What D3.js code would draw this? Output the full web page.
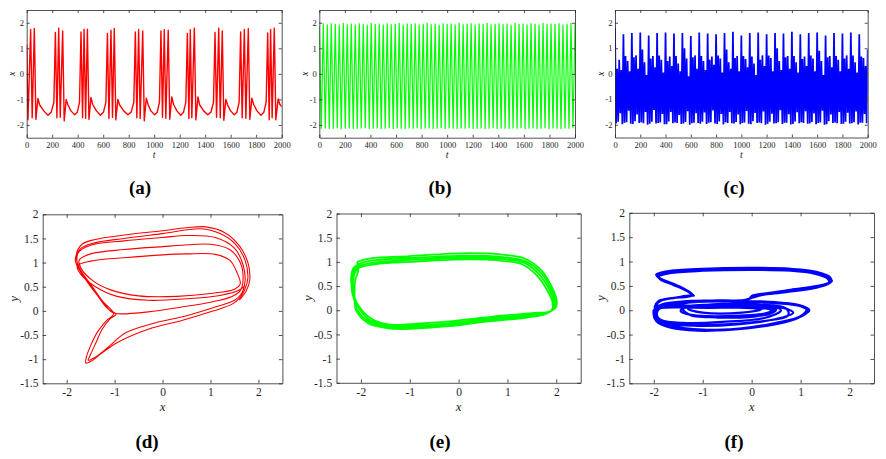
<!DOCTYPE html>
<html>
<head>
<meta charset="utf-8">
<script src="https://cdn.jsdelivr.net/npm/d3@7"></script>
<style>
  body { margin: 0; background: #fff; }
  svg { display: block; }
  svg text { font-family: "Liberation Serif", "Times New Roman", Times, serif; }
</style>
</head>
<body>
<svg id="fig" width="886" height="459"></svg>
<script>
// ---------- data ----------

// (a) bursting x(t): [t, x] vertices
var seriesA = [
  [0,1.15],[10,-1.8],[31,1.74],[43,-1.72],[60,1.78],[72,-1.78],[88,-0.96],[102,-1.22],[134,-1.45],[167,-1.62],[192,-1.5],[213,-1.12],
  [225,1.62],[237,-1.72],[251,1.79],[263,-1.7],[282,1.68],[294,-1.84],[310,-1.0],[324,-1.22],[347,-1.45],[376,-1.6],[397,-1.5],[414,-1.12],
  [426,1.64],[438,-1.72],[450,1.75],[462,-1.74],[476,1.75],[488,-1.78],[504,-0.92],[518,-1.2],[547,-1.45],[578,-1.62],[602,-1.5],[621,-1.12],
  [633,1.58],[645,-1.75],[661,1.71],[673,-1.7],[687,1.78],[699,-1.8],[715,-1.0],[729,-1.22],[761,-1.45],[794,-1.6],[819,-1.5],[840,-1.12],
  [852,1.64],[864,-1.72],[878,1.74],[890,-1.75],[910,1.68],[922,-1.84],[938,-0.95],[952,-1.2],[974,-1.45],[1003,-1.6],[1024,-1.5],[1041,-1.12],
  [1053,1.68],[1065,-1.7],[1079,1.73],[1091,-1.74],[1110,1.71],[1122,-1.78],[1138,-0.9],[1152,-1.2],[1178,-1.45],[1208,-1.62],[1230,-1.5],[1248,-1.12],
  [1260,1.58],[1272,-1.75],[1283,1.73],[1295,-1.72],[1315,1.79],[1327,-1.8],[1343,-0.9],[1357,-1.22],[1388,-1.45],[1420,-1.6],[1445,-1.5],[1465,-1.12],
  [1477,1.62],[1489,-1.7],[1506,1.79],[1518,-1.72],[1534,1.68],[1546,-1.82],[1562,-1.0],[1576,-1.22],[1599,-1.45],[1628,-1.6],[1649,-1.5],[1666,-1.12],
  [1678,1.64],[1690,-1.72],[1707,1.74],[1719,-1.74],[1738,1.77],[1750,-1.78],[1766,-0.95],[1780,-1.2],[1806,-1.45],[1837,-1.62],[1860,-1.5],[1878,-1.12],
  [1890,1.6],[1902,-1.8],[1913,1.74],[1925,-1.72],[1942,1.79],[1954,-1.8],[1972,-0.98],[1986,-1.2],[2000,-1.28]
];

// (b) periodic x(t): one peak every bPeriod, trough half way between
var bPeriod = 31.25;
var bPeakX = [
  1.85,1.97,1.93,1.98,1.95,1.92,1.99,1.94,1.97,1.93,
  1.98,1.96,1.92,1.99,1.95,1.97,1.93,1.98,1.94,1.96,
  1.99,1.92,1.97,1.95,1.98,1.93,1.96,1.99,1.94,1.97,
  1.92,1.98,1.95,1.97,1.93,1.99,1.94,1.96,1.98,1.92,
  1.97,1.95,1.99,1.93,1.96,1.98,1.94,1.97,1.92,1.99,
  1.95,1.97,1.93,1.98,1.96,1.92,1.99,1.94,1.97,1.95,
  1.98,1.93,1.96,1.99,1.94
];
var bTroughX = [
  -2.15,-2.14,-2.16,-2.15,-2.13,-2.16,-2.15,-2.14,
  -2.16,-2.15,-2.14,-2.13,-2.16,-2.15,-2.14,-2.16,
  -2.15,-2.13,-2.16,-2.14,-2.15,-2.16,-2.14,-2.15,
  -2.13,-2.16,-2.15,-2.14,-2.16,-2.15,-2.13,-2.16,
  -2.14,-2.15,-2.16,-2.14,-2.15,-2.13,-2.16,-2.15,
  -2.14,-2.16,-2.15,-2.13,-2.16,-2.14,-2.15,-2.16,
  -2.14,-2.15,-2.13,-2.16,-2.15,-2.14,-2.16,-2.15,
  -2.13,-2.16,-2.14,-2.15,-2.16,-2.14,-2.15,-2.13
];

// (c) chaotic x(t): local maxima / minima, one oscillation every cStep
var cStep = 2000 / 120;
var cPeaks = [
  1.80,0.20,0.55,0.15,  1.55,0.70,0.50,0.10,  1.60,0.65,0.72,0.20,  1.62,0.95,0.45,-0.05,
  1.50,0.60,0.70,0.25,  1.60,0.72,0.55,0.05,  1.62,0.50,0.68,0.30,  1.58,0.70,0.40,0.10,
  1.60,1.00,0.60,-0.10, 1.48,0.65,0.72,0.20,  1.62,0.70,0.50,0.15,  1.58,0.55,0.68,0.35,
  1.55,0.72,0.60,0.05,  1.60,0.95,0.45,0.20,  1.65,0.62,0.70,0.10,  1.50,0.70,0.58,0.25,
  1.60,0.68,0.40,-0.05, 1.62,0.55,0.72,0.30,  1.55,0.72,0.62,0.10,  1.60,1.00,0.50,0.15,
  1.58,0.65,0.70,0.20,  1.65,0.70,0.45,0.05,  1.55,0.58,0.68,0.30,  1.60,0.72,0.60,0.10,
  1.62,0.90,0.50,-0.05, 1.50,0.65,0.70,0.25,  1.60,0.70,0.55,0.10,  1.58,0.60,0.72,0.20,
  1.62,0.72,0.45,0.05,  1.55,0.68,0.62,0.30,  0.95
];
var cTroughs = [
  -1.95,-1.88,-1.55,-1.98, -1.92,-1.90,-1.45,-1.96, -1.97,-1.86,-1.60,-1.93, -1.90,-1.94,-1.50,-2.00,
  -1.96,-1.88,-1.42,-1.95, -1.93,-1.91,-1.58,-1.98, -1.98,-1.87,-1.50,-1.94, -1.91,-1.93,-1.62,-1.97,
  -1.95,-1.89,-1.47,-2.00, -1.94,-1.92,-1.55,-1.93, -1.96,-1.88,-1.52,-1.97, -1.92,-1.90,-1.44,-1.95,
  -1.97,-1.87,-1.58,-1.99, -1.90,-1.93,-1.50,-1.94, -1.95,-1.89,-1.60,-1.98, -1.93,-1.91,-1.46,-1.96,
  -1.98,-1.86,-1.54,-1.93, -1.91,-1.94,-1.48,-2.00, -1.96,-1.88,-1.57,-1.95, -1.94,-1.90,-1.43,-1.97,
  -1.92,-1.92,-1.59,-1.99, -1.97,-1.87,-1.51,-1.94, -1.90,-1.93,-1.47,-1.96, -1.95,-1.89,-1.56,-1.98,
  -1.93,-1.91,-1.45,-2.00, -1.98,-1.86,-1.60,-1.93, -1.91,-1.94,-1.50,-1.97, -1.96,-1.88,-1.53,-1.95,
  -1.94,-1.90,-1.48,-1.99, -1.92,-1.92,-1.58,-1.94
];

// (d) phase portrait laps, [x, y]
var dOrbit = [
  [[1.6,0.22],[1.75,0.42],[1.82,0.65],[1.78,1.0],[1.6,1.35],[1.3,1.62],[0.9,1.74],[0.5,1.72],[0,1.66],[-0.8,1.57],[-1.4,1.48],[-1.68,1.38],[-1.8,1.15],[-1.74,0.9],[-1.5,0.55],[-1.25,0.2],[-1.02,-0.06],[-1.17,-0.2],[-1.36,-0.44],[-1.5,-0.72],[-1.59,-0.96],[-1.6,-1.08],[-1.5,-1.05],[-1.3,-0.9],[-0.95,-0.66],[-0.3,-0.38],[0.4,-0.2],[1.0,-0.02],[1.45,0.14],[1.62,0.28]],
  [[1.72,0.45],[1.78,0.68],[1.72,1.05],[1.52,1.38],[1.2,1.6],[0.8,1.7],[0,1.6],[-0.8,1.5],[-1.45,1.4],[-1.72,1.28],[-1.82,1.05],[-1.67,0.75],[-1.4,0.38],[-1.15,0.05],[-0.97,-0.07],[-1.1,-0.17],[-1.26,-0.38],[-1.38,-0.64],[-1.5,-0.9],[-1.55,-1.02],[-1.42,-0.97],[-1.12,-0.74],[-0.78,-0.46],[-0.2,-0.26],[0.5,-0.1],[1.1,0.08],[1.5,0.22],[1.65,0.36]],
  [[1.72,0.6],[1.68,0.95],[1.5,1.3],[1.1,1.52],[0.5,1.56],[0,1.52],[-0.8,1.45],[-1.5,1.36],[-1.76,1.2],[-1.77,0.95],[-1.57,0.6],[-1.3,0.25],[-1.05,-0.03],[-0.92,-0.06],[-0.3,-0.02],[0.4,0.08],[1.0,0.18],[1.45,0.3],[1.62,0.42]],
  [[1.68,0.65],[1.62,1.0],[1.4,1.27],[1.0,1.38],[0.4,1.36],[0,1.33],[-0.8,1.27],[-1.5,1.18],[-1.74,1.05],[-1.7,0.88],[-1.45,0.62],[-1.1,0.44],[-0.5,0.31],[0.3,0.3],[1.0,0.36],[1.5,0.45],[1.62,0.56]],
  [[1.55,0.8],[1.4,1.05],[1.1,1.17],[0.5,1.18],[0,1.16],[-0.8,1.1],[-1.5,1.03],[-1.78,0.93],[-1.7,0.75],[-1.4,0.5],[-0.95,0.3],[-0.3,0.22],[0.5,0.25],[1.2,0.32],[1.58,0.42],[1.72,0.52]]
];

// (e) phase portrait laps
var eOrbit = [
  [[-2.08,1.0],[-1.8,1.07],[-1.0,1.12],[0.2,1.18],[0.9,1.15],[1.35,1.07],[1.7,0.82],[1.9,0.5],[2.0,0.25],[2.0,0.08],[1.88,-0.02],[1.5,-0.06],[0.7,-0.13],[-0.2,-0.23],[-0.9,-0.28],[-1.4,-0.3],[-1.75,-0.2],[-1.98,0.0],[-2.15,0.3],[-2.2,0.65],[-2.15,0.88]],
  [[-2.03,0.96],[-1.75,1.03],[-1.0,1.08],[0.2,1.13],[0.9,1.1],[1.35,1.02],[1.68,0.78],[1.88,0.47],[1.97,0.22],[1.96,0.06],[1.85,-0.04],[1.45,-0.1],[0.65,-0.17],[-0.2,-0.27],[-0.9,-0.32],[-1.4,-0.33],[-1.8,-0.22],[-2.03,0.02],[-2.17,0.32],[-2.18,0.65],[-2.12,0.86]],
  [[-2.0,0.93],[-1.7,0.99],[-1.0,1.04],[0.2,1.09],[0.9,1.06],[1.35,0.98],[1.65,0.74],[1.85,0.44],[1.95,0.2],[1.94,0.04],[1.82,-0.06],[1.4,-0.13],[0.6,-0.2],[-0.2,-0.3],[-0.9,-0.35],[-1.4,-0.36],[-1.82,-0.25],[-2.07,0.0],[-2.15,0.3],[-2.16,0.62],[-2.08,0.85]],
  [[-1.97,0.9],[-1.65,0.96],[-1.0,1.0],[0.2,1.05],[0.9,1.02],[1.3,0.95],[1.62,0.7],[1.82,0.4],[1.92,0.18],[1.92,0.03],[1.8,-0.07],[1.4,-0.15],[0.6,-0.23],[-0.2,-0.33],[-0.9,-0.38],[-1.4,-0.38],[-1.85,-0.27],[-2.1,0.0],[-2.13,0.3],[-2.12,0.6],[-2.05,0.85],[-2.08,1.0]]
];

// (f) phase portrait laps
var fOrbit = [
  [[-1.2,0.31],[-1.36,0.42],[-1.62,0.54],[-1.88,0.65],[-1.93,0.71],[-1.7,0.78],[-1.0,0.83],[0,0.85],[0.8,0.83],[1.3,0.77],[1.58,0.67],[1.64,0.6],[1.45,0.52],[0.8,0.42],[0.25,0.34],[0.02,0.3],[-0.08,0.22],[-0.6,0.2],[-1.3,0.19],[-1.75,0.12],[-1.97,-0.02],[-1.92,-0.2],[-1.6,-0.33],[-1.0,-0.4],[-0.3,-0.38],[0.4,-0.29],[0.95,-0.15],[1.18,0.0],[0.95,0.11],[0.3,0.17],[-0.5,0.19],[-1.3,0.16],[-1.85,0.06],[-1.98,-0.08],[-1.85,-0.2],[-1.4,-0.26],[-0.6,-0.24],[0.3,-0.15],[0.6,0.0],[0.3,0.1],[-0.6,0.12],[-1.35,0.07],[-1.45,-0.02],[-1.2,-0.1],[-0.5,-0.12],[0.3,-0.06],[0.45,0.02],[0.1,0.07],[-0.7,0.07],[-1.6,0.06],[-1.98,0.06],[-1.88,0.18],[-1.6,0.25],[-1.3,0.28]],
  [[-1.22,0.33],[-1.38,0.44],[-1.64,0.56],[-1.9,0.67],[-1.95,0.73],[-1.72,0.8],[-1.0,0.85],[0,0.87],[0.8,0.85],[1.32,0.79],[1.6,0.68],[1.62,0.58],[1.4,0.49],[0.75,0.39],[0.22,0.32],[0.0,0.28],[-0.1,0.2],[-0.7,0.18],[-1.4,0.16],[-1.82,0.08],[-1.95,-0.08],[-1.85,-0.24],[-1.5,-0.35],[-0.9,-0.41],[-0.2,-0.37],[0.5,-0.26],[1.0,-0.12],[1.12,0.02],[0.85,0.12],[0.2,0.18],[-0.6,0.19],[-1.4,0.14],[-1.9,0.02],[-1.92,-0.14],[-1.7,-0.27],[-1.1,-0.32],[-0.3,-0.29],[0.5,-0.18],[0.85,-0.05],[0.6,0.06],[-0.2,0.11],[-1.0,0.1],[-1.42,0.04],[-1.3,-0.08],[-0.7,-0.15],[0.2,-0.1],[0.4,0.0],[0.0,0.06],[-0.9,0.05],[-1.7,0.08],[-1.96,0.12],[-1.85,0.2],[-1.55,0.26],[-1.28,0.3]],
  [[-1.18,0.3],[-1.33,0.4],[-1.6,0.52],[-1.86,0.63],[-1.9,0.69],[-1.68,0.76],[-1.0,0.81],[0,0.83],[0.8,0.81],[1.28,0.75],[1.55,0.65],[1.58,0.56],[1.35,0.47],[0.7,0.37],[0.2,0.31],[0.03,0.26],[-0.15,0.21],[-0.8,0.2],[-1.5,0.17],[-1.88,0.1],[-2.0,-0.05],[-1.95,-0.22],[-1.65,-0.36],[-1.1,-0.42],[-0.4,-0.4],[0.3,-0.32],[0.9,-0.18],[1.15,-0.02],[1.0,0.08],[0.4,0.15],[-0.4,0.18],[-1.2,0.17],[-1.8,0.1],[-2.0,0.0],[-1.95,-0.17],[-1.6,-0.28],[-0.8,-0.3],[0.1,-0.24],[0.75,-0.1],[0.7,0.04],[0.1,0.12],[-0.8,0.12],[-1.4,0.02],[-1.25,-0.1],[-0.6,-0.14],[0.35,-0.08],[0.5,0.02],[0.1,0.09],[-0.8,0.09],[-1.3,0.03],[-1.0,-0.05],[-0.2,-0.05],[0.2,0.02],[-0.5,0.06],[-1.5,0.1],[-1.95,0.1],[-1.9,0.19],[-1.62,0.25],[-1.25,0.29],[-1.2,0.31]]
];

// ticks and labels
var timeTicks = d3.range(0, 2001, 200);
var timeYTicks = [-2, -1, 0, 1, 2];
var phaseXTicks = [-2, -1, 0, 1, 2];
var phaseYTicks = [-1.5, -1, -0.5, 0, 0.5, 1, 1.5, 2];
var panelNames = ["(a)", "(b)", "(c)", "(d)", "(e)", "(f)"];

// ---------- layout ----------
var svg = d3.select("#fig");
var defs = svg.append("defs");
var axisColor = "#262626";
var serif = "'Liberation Serif', 'Times New Roman', Times, serif";
var fmt = function(d) { return String(d); };

function makePanel(id, box, xDom, yDom, xTicks, yTicks, o) {
  var x = d3.scaleLinear().domain(xDom).range([box.l, box.r]);
  var y = d3.scaleLinear().domain(yDom).range([box.b, box.t]);
  var g = svg.append("g");

  defs.append("clipPath").attr("id", "clip-" + id)
    .append("rect")
      .attr("x", box.l).attr("y", box.t)
      .attr("width", box.r - box.l).attr("height", box.b - box.t);

  var plot = g.append("g").attr("clip-path", "url(#clip-" + id + ")");

  // box with inward ticks on all four sides (labels only bottom/left)
  var axes = [
    g.append("g").attr("transform", "translate(0," + box.b + ")")
      .call(d3.axisBottom(x).tickValues(xTicks).tickSize(-o.tick).tickSizeOuter(0).tickPadding(o.padX).tickFormat(fmt)),
    g.append("g").attr("transform", "translate(0," + box.t + ")")
      .call(d3.axisTop(x).tickValues(xTicks).tickSize(-o.tick).tickSizeOuter(0).tickFormat("")),
    g.append("g").attr("transform", "translate(" + box.l + ",0)")
      .call(d3.axisLeft(y).tickValues(yTicks).tickSize(-o.tick).tickSizeOuter(0).tickPadding(o.padY).tickFormat(fmt)),
    g.append("g").attr("transform", "translate(" + box.r + ",0)")
      .call(d3.axisRight(y).tickValues(yTicks).tickSize(-o.tick).tickSizeOuter(0).tickFormat(""))
  ];
  axes.forEach(function(a) {
    a.attr("font-family", serif).attr("font-size", o.font);
    a.selectAll("path.domain").attr("stroke", axisColor).attr("stroke-width", 0.8);
    a.selectAll(".tick line").attr("stroke", axisColor).attr("stroke-width", 0.8);
    a.selectAll(".tick text").attr("fill", axisColor).attr("font-family", serif);
  });

  // axis titles
  g.append("text")
    .attr("x", (box.l + box.r) / 2).attr("y", o.xLabelY)
    .attr("text-anchor", "middle").attr("font-style", "italic")
    .attr("font-family", serif)
    .attr("font-size", o.labelFont).attr("fill", axisColor)
    .text(o.xLabel);
  g.append("text")
    .attr("transform", "translate(" + (box.l - o.yLabelOff) + "," + ((box.t + box.b) / 2) + ") rotate(-90)")
    .attr("text-anchor", "middle").attr("dy", "0.3em").attr("font-style", "italic")
    .attr("font-family", serif)
    .attr("font-size", o.labelFont).attr("fill", axisColor)
    .text(o.yLabel);

  // panel caption
  g.append("text")
    .attr("x", o.capX).attr("y", o.capY)
    .attr("text-anchor", "middle").attr("font-weight", "bold")
    .attr("font-family", serif)
    .attr("font-size", 19).attr("fill", "#000")
    .text(o.caption);

  return { x: x, y: y, plot: plot };
}

var topOpt = function(cap, capX) {
  return { tick: 3, padX: 4.2, padY: 2.6, font: 8.5, labelFont: 10,
           xLabel: "t", yLabel: "x", xLabelY: 157.5, yLabelOff: 14.5,
           caption: cap, capX: capX, capY: 194 };
};
var botOpt = function(cap, capX) {
  return { tick: 3.5, padX: 5, padY: 4.3, font: 11.5, labelFont: 13,
           xLabel: "x", yLabel: "y", xLabelY: 410.5, yLabelOff: 28.5,
           caption: cap, capX: capX, capY: 447.5 };
};

var pA = makePanel("a", {l: 26.7, r: 281.7, t: 10, b: 137.7}, [0, 2000], [-2.5, 2.5], timeTicks, timeYTicks, topOpt(panelNames[0], 140));
var pB = makePanel("b", {l: 319.3, r: 575, t: 10, b: 137.7}, [0, 2000], [-2.5, 2.5], timeTicks, timeYTicks, topOpt(panelNames[1], 440));
var pC = makePanel("c", {l: 615, r: 867.7, t: 10, b: 137.5}, [0, 2000], [-2.5, 2.5], timeTicks, timeYTicks, topOpt(panelNames[2], 734));
var pD = makePanel("d", {l: 42.7, r: 282.4, t: 214.3, b: 383.3}, [-2.5, 2.5], [-1.5, 2], phaseXTicks, phaseYTicks, botOpt(panelNames[3], 147));
var pE = makePanel("e", {l: 336.5, r: 580.7, t: 213.5, b: 382.8}, [-2.5, 2.5], [-1.5, 2], phaseXTicks, phaseYTicks, botOpt(panelNames[4], 440));
var pF = makePanel("f", {l: 629.3, r: 874, t: 212.8, b: 383.3}, [-2.5, 2.5], [-1.5, 2], phaseXTicks, phaseYTicks, botOpt(panelNames[5], 734));

// ---------- series ----------
function linePath(p, curve) {
  var l = d3.line().x(function(d) { return p.x(d[0]); }).y(function(d) { return p.y(d[1]); });
  if (curve) l.curve(curve);
  return l;
}

// (a)
pA.plot.append("path").datum(seriesA)
  .attr("d", linePath(pA))
  .attr("fill", "none").attr("stroke", "#ff0000").attr("stroke-width", 1.4).attr("stroke-linejoin", "round");

// (b)
var seriesB = [];
bPeakX.forEach(function(v, i) {
  seriesB.push([i * bPeriod, v]);
  if (i < bTroughX.length) seriesB.push([i * bPeriod + bPeriod / 2, bTroughX[i]]);
});
pB.plot.append("path").datum(seriesB)
  .attr("d", linePath(pB))
  .attr("fill", "none").attr("stroke", "#00ff00").attr("stroke-width", 1.2);

// (c)
var seriesC = [];
cPeaks.forEach(function(v, i) {
  seriesC.push([i * cStep, v]);
  if (i < cTroughs.length) seriesC.push([i * cStep + cStep / 2, cTroughs[i]]);
});
pC.plot.append("path").datum(seriesC)
  .attr("d", linePath(pC))
  .attr("fill", "none").attr("stroke", "#0000ff").attr("stroke-width", 1.75);

// (d)(e)(f) phase portraits
function drawOrbit(p, laps, colour, width) {
  var pts = [].concat.apply([], laps);
  p.plot.append("path").datum(pts)
    .attr("d", linePath(p, d3.curveCatmullRom.alpha(0.5)))
    .attr("fill", "none").attr("stroke", colour).attr("stroke-width", width);
}
drawOrbit(pD, dOrbit, "#ff0000", 1.1);
drawOrbit(pE, eOrbit, "#00ff00", 1.8);
drawOrbit(pF, fOrbit, "#0000ff", 2.2);
</script>
</body>
</html>
